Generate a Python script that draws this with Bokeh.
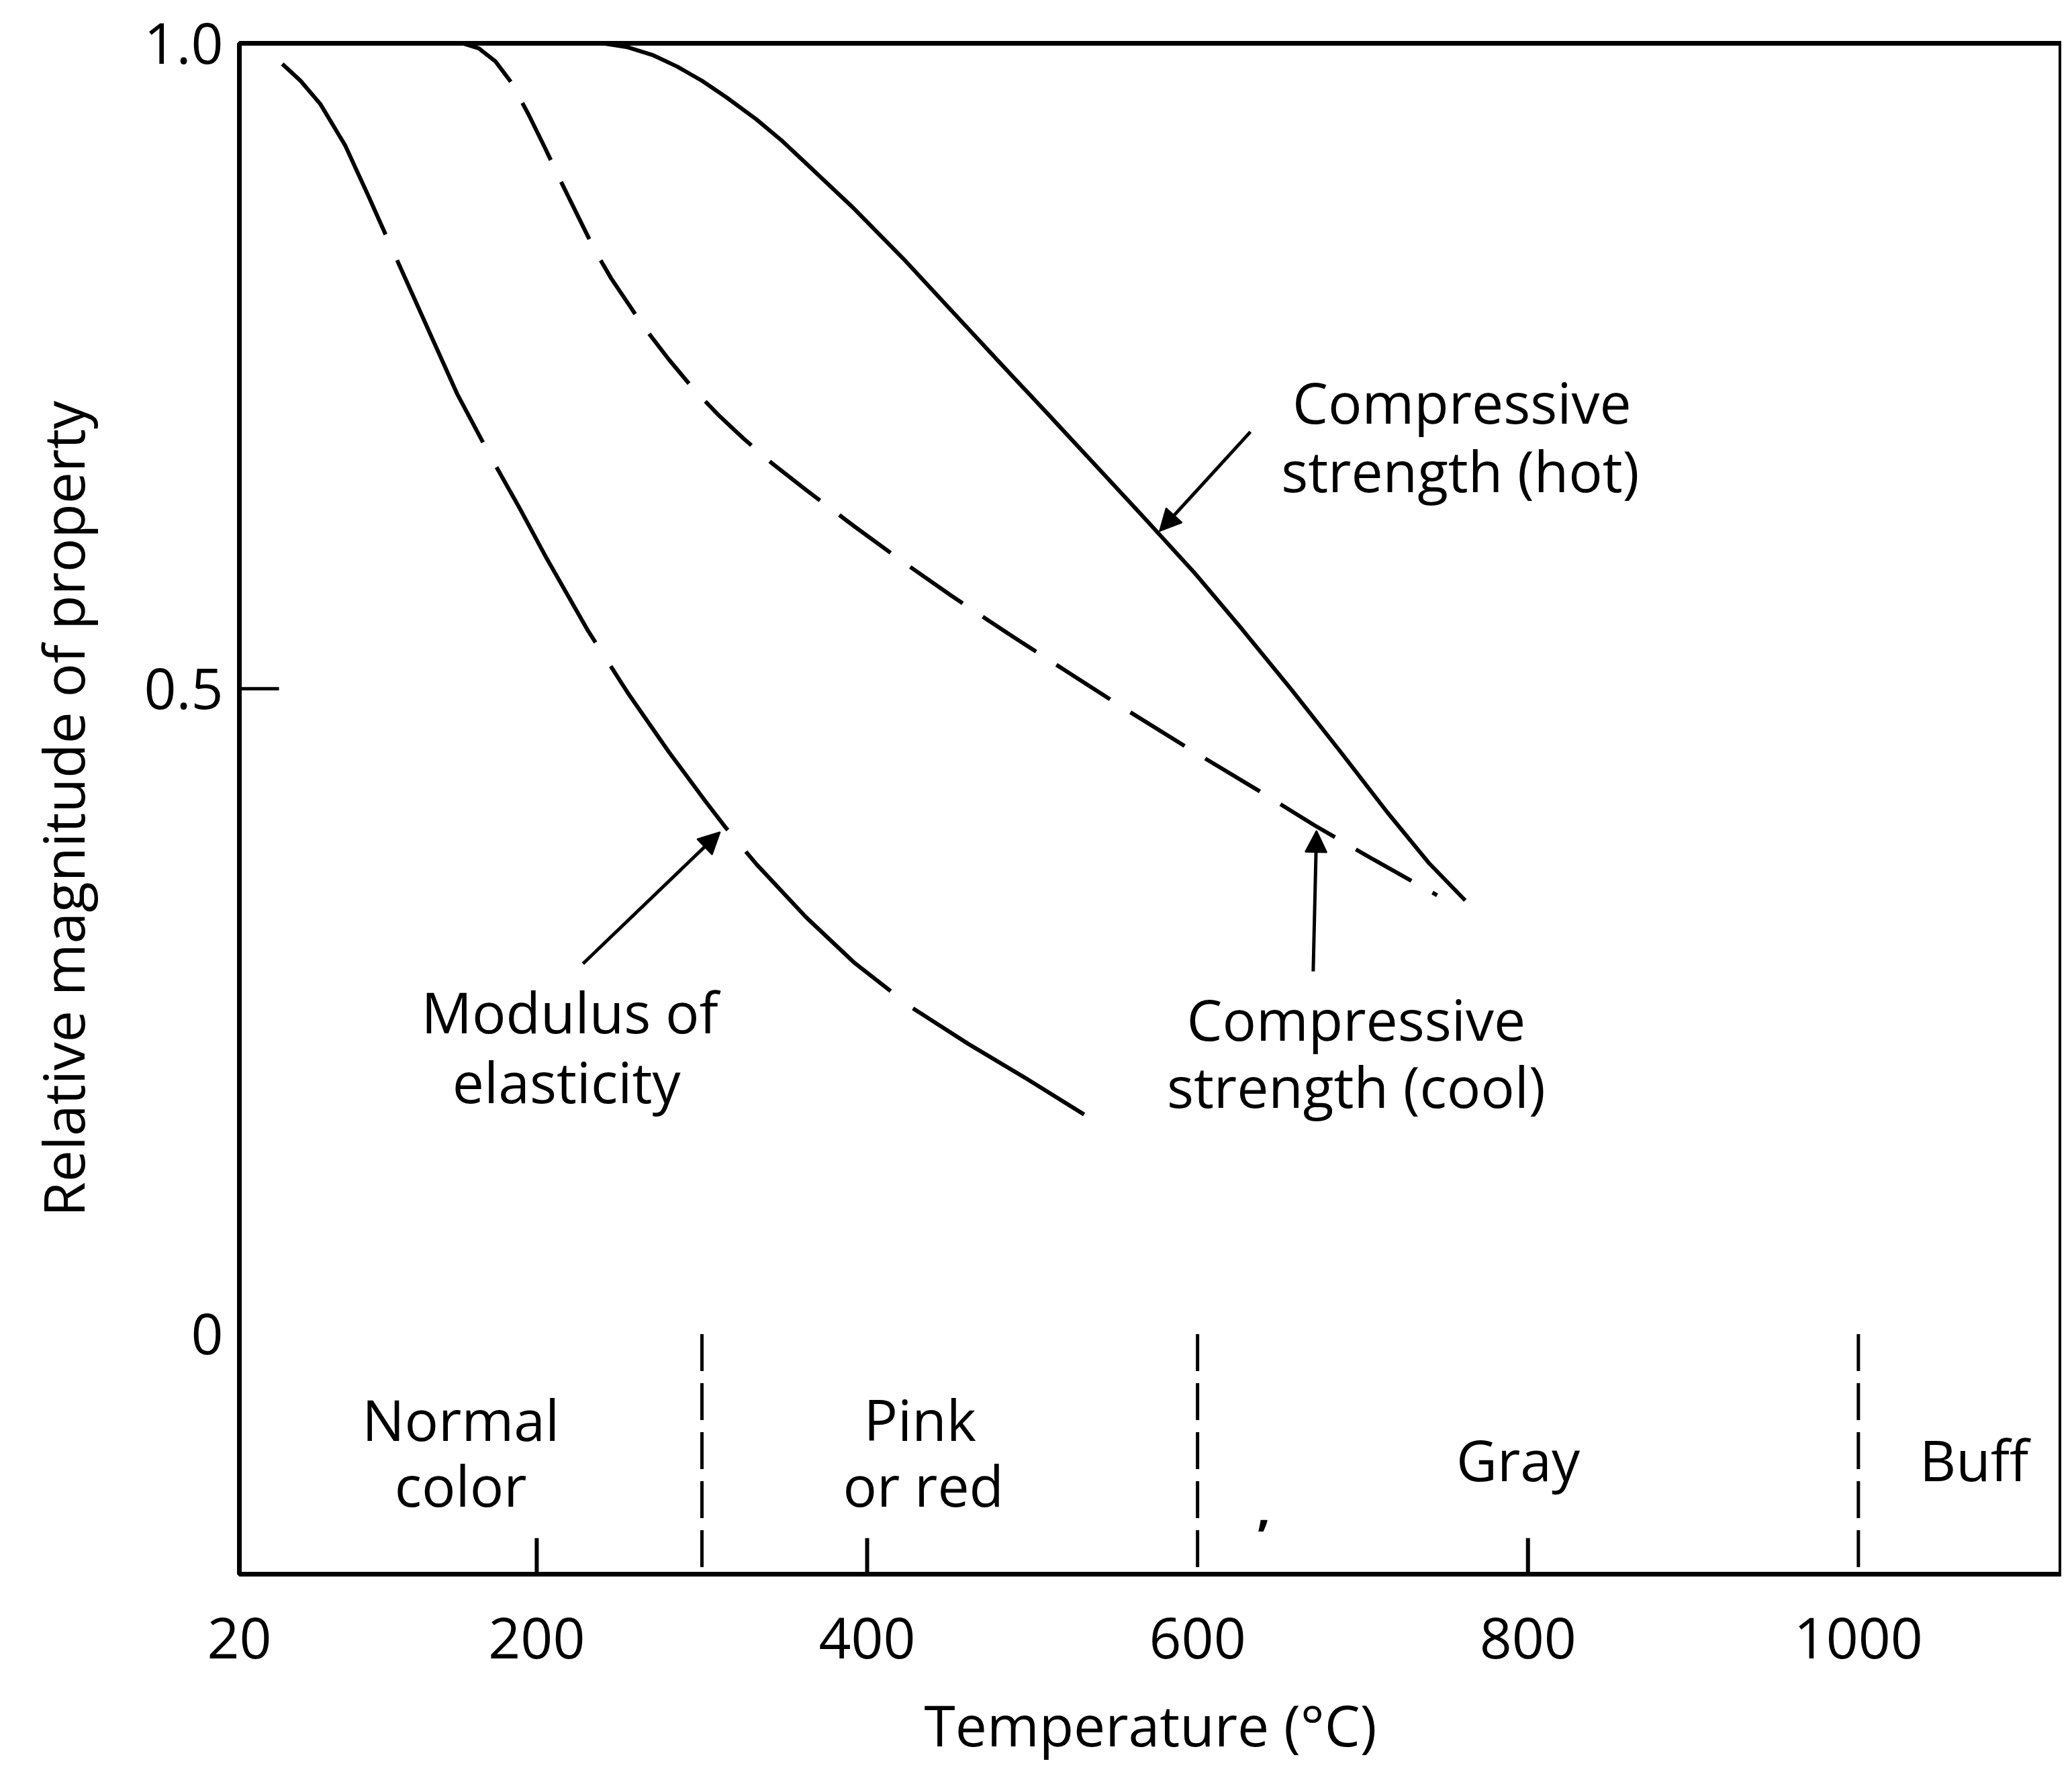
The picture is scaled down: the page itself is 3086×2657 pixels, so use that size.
from bokeh.plotting import figure
from bokeh.models import Range1d, ColumnDataSource, Arrow, NormalHead, FixedTicker
from bokeh.core.properties import value
from bokeh.embed import file_html
from bokeh.resources import INLINE

# ---------------- data ----------------
modulus_x = [46, 57, 69, 84, 98, 113, 133, 152, 172, 190, 206, 231, 255, 280, 302, 314, 333, 363, 392, 427, 461, 495, 534]
modulus_y = [0.984, 0.971, 0.953, 0.921, 0.882, 0.839, 0.782, 0.728, 0.680, 0.639, 0.601, 0.545, 0.497, 0.451,
             0.413, 0.393, 0.364, 0.323, 0.288, 0.253, 0.225, 0.199, 0.168]

cool_x = [155, 165, 175, 185, 195, 205, 215, 225, 235, 245, 255, 265, 280, 295, 310, 325, 343, 363, 392, 422,
          451, 485, 520, 559, 598, 637, 671, 706, 745]
cool_y = [1.0, 0.996, 0.986, 0.969, 0.945, 0.919, 0.892, 0.866, 0.840, 0.818, 0.799, 0.780, 0.755, 0.732, 0.712,
          0.694, 0.674, 0.654, 0.626, 0.598, 0.572, 0.543, 0.514, 0.482, 0.451, 0.421, 0.394, 0.368, 0.340]

hot_x = [240, 255, 270, 285, 300, 315, 333, 348, 363, 392, 422, 451, 480, 510, 539, 568, 598, 627, 657, 686, 715, 740, 762]
hot_y = [1.0, 0.997, 0.991, 0.982, 0.971, 0.958, 0.941, 0.925, 0.907, 0.872, 0.833, 0.793, 0.753, 0.712, 0.672,
         0.632, 0.590, 0.546, 0.499, 0.452, 0.404, 0.365, 0.336]

x_tick_values = [20, 200, 400, 600, 800, 1000]
y_tick_values = [0, 0.5, 1.0]
y_tick_labels = ["0", "0.5", "1.0"]
small_tick_temps = [200, 400, 800]
color_boundaries = [300, 600, 1000]

FONT = "Open Sans"
FS = "84px"

p = figure(width=3070, height=2641, output_backend="svg", toolbar_location=None,
           x_range=Range1d(20, 1123), y_range=Range1d(-0.186, 1.0),
           min_border_left=356, min_border_right=0, min_border_top=64, min_border_bottom=297)
p.grid.visible = False
p.background_fill_color = "white"
p.border_fill_color = "white"
p.outline_line_color = "black"
p.outline_line_width = 7

# axes
xa = p.xaxis[0]
xa.ticker = FixedTicker(ticks=x_tick_values)
xa.axis_line_color = None
xa.major_tick_line_color = None
xa.minor_tick_line_color = None
xa.major_label_text_font = FONT
xa.major_label_text_font_size = FS
xa.major_label_text_color = "black"
xa.major_label_standoff = 58
xa.axis_label = "Temperature (°C)"
xa.axis_label_text_font = FONT
xa.axis_label_text_font_size = FS
xa.axis_label_text_font_style = "normal"
xa.axis_label_text_color = "black"
xa.axis_label_standoff = 38

ya = p.yaxis[0]
ya.ticker = FixedTicker(ticks=y_tick_values)
ya.major_label_overrides = {v: s for v, s in zip(y_tick_values, y_tick_labels)}
ya.axis_line_color = None
ya.major_tick_line_color = None
ya.minor_tick_line_color = None
ya.major_label_text_font = FONT
ya.major_label_text_font_size = FS
ya.major_label_text_color = "black"
ya.major_label_standoff = 18
ya.axis_label = "Relative magnitude of property"
ya.axis_label_text_font = FONT
ya.axis_label_text_font_size = FS
ya.axis_label_text_font_style = "normal"
ya.axis_label_text_color = "black"
ya.axis_label_standoff = 60

# curves
p.line(modulus_x, modulus_y, line_color="black", line_width=6, line_dash="300 42")
p.line(cool_x, cool_y, line_color="black", line_width=6, line_dash="95 36")
p.line(hot_x, hot_y, line_color="black", line_width=6)

# y tick at 0.5 (inward)
p.segment(x0=[20], y0=[0.5], x1=[44], y1=[0.5], line_color="black", line_width=5)

# small x ticks
ybot = -0.186
p.segment(x0=small_tick_temps, y0=[ybot] * 3, x1=small_tick_temps, y1=[ybot + 0.028] * 3,
          line_color="black", line_width=6)

# colour zone boundaries
p.segment(x0=color_boundaries, y0=[0.0] * 3, x1=color_boundaries, y1=[ybot] * 3,
          line_color="black", line_width=5, line_dash="55 18")

# zone labels
zone_src = ColumnDataSource(dict(
    x=[154, 154, 432, 434, 794, 1070],
    y=[-0.066, -0.117, -0.066, -0.117, -0.097, -0.097],
    t=["Normal", "color", "Pink", "or red", "Gray", "Buff"]))
p.text(x="x", y="y", text="t", source=zone_src, text_font=value(FONT), text_font_size=FS,
       text_align="center", text_baseline="middle", text_color="black")

# curve labels
lab_src = ColumnDataSource(dict(
    x=[220, 218, 696, 696, 760, 759],
    y=[0.250, 0.196, 0.244, 0.192, 0.722, 0.669],
    t=["Modulus of", "elasticity", "Compressive", "strength (cool)", "Compressive", "strength (hot)"]))
p.text(x="x", y="y", text="t", source=lab_src, text_font=value(FONT), text_font_size=FS,
       text_align="center", text_baseline="middle", text_color="black")

# small mark in the gray zone
p.text(x=[640], y=[-0.135], text=[","], text_font=value(FONT), text_font_size="70px",
       text_font_style="bold", text_align="center", text_baseline="middle", text_color="black")

# arrows
for (xs, ys, xe, ye) in [(228, 0.287, 311, 0.389), (670, 0.281, 672, 0.390), (632, 0.699, 577, 0.622)]:
    p.add_layout(Arrow(end=NormalHead(size=32, fill_color="black", line_color="black", line_width=2),
                       x_start=xs, y_start=ys, x_end=xe, y_end=ye,
                       line_color="black", line_width=5))

open("out.html", "w").write(file_html(p, INLINE))
